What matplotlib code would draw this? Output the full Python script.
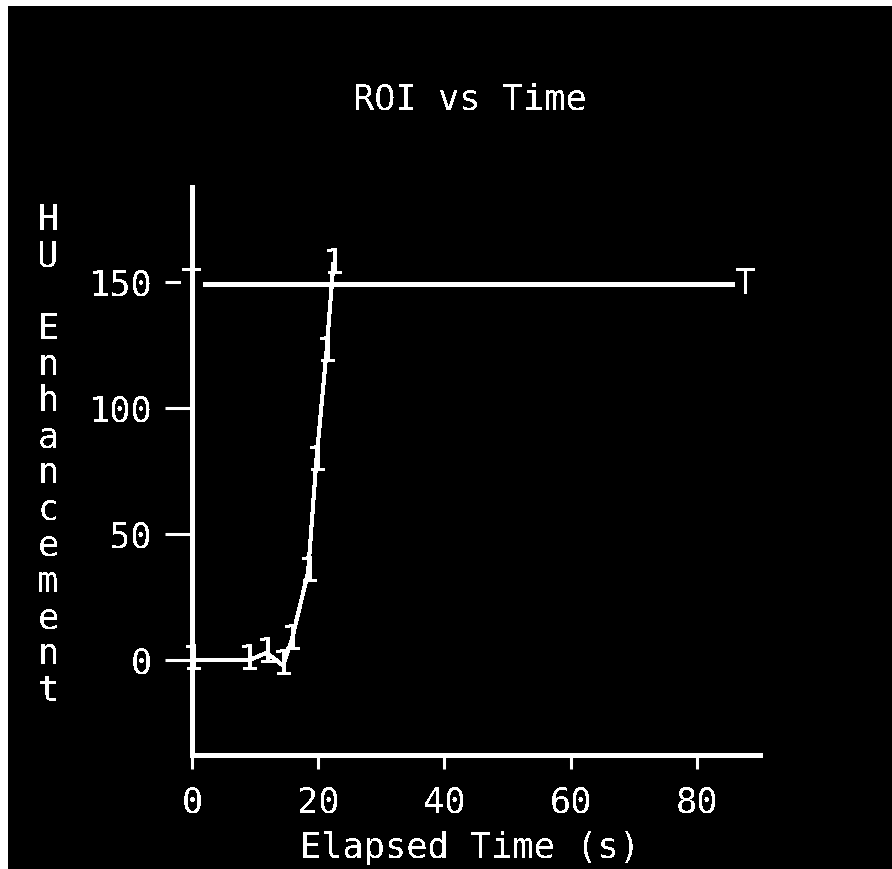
"""
ROI enhancement vs elapsed time (bolus tracking plot).
"""

import matplotlib
matplotlib.use("Agg")
import matplotlib.pyplot as plt
from matplotlib.patches import Rectangle

# data
roi_time = [0.0, 9.0, 11.8, 14.4, 15.8, 18.4, 19.7, 21.3, 22.4]
roi_hu = [0.0, 0.0, 3.0, -2.0, 8.0, 35.0, 79.0, 122.0, 157.0]
thresh_time = [0.0, 87.8]
thresh_hu = [149.0, 149.0]
x_ticks = [0, 20, 40, 60, 80]
y_ticks = [0, 50, 100, 150]
y_label = "HU Enhancement"

FONT = "DejaVu Sans Mono"
FS = 25.5


def main():
    plt.rcParams["font.family"] = FONT
    plt.rcParams["text.antialiased"] = False

    W, H = 892, 869
    fig = plt.figure(figsize=(W / 100, H / 100), dpi=100, facecolor="black")

    left, right, top, bottom = 192, 760, 187, 755
    ax = fig.add_axes([left / W, 1 - bottom / H, (right - left) / W, (bottom - top) / H])
    ax.set_facecolor("black")
    ax.set_xlim(0, 90)
    ax.set_ylim(-37.5, 187.5)

    for s in ("top", "right"):
        ax.spines[s].set_visible(False)
    for s in ("left", "bottom"):
        ax.spines[s].set_color("white")
        ax.spines[s].set_linewidth(2.2)
        ax.spines[s].set_antialiased(False)
        ax.spines[s].set_zorder(4)

    ax.set_xticks(x_ticks)
    ax.set_yticks(y_ticks)
    ax.tick_params(axis="x", colors="white", length=10, width=2.2, pad=12, labelsize=FS)
    ax.tick_params(axis="y", colors="white", length=19.5, width=2.2, pad=9, labelsize=FS)

    # curve and threshold line
    ax.plot(roi_time, roi_hu, color="white", lw=2.2, antialiased=False, zorder=2)
    ax.plot(thresh_time, thresh_hu, color="white", lw=2.2, antialiased=False, zorder=2)

    box = dict(facecolor="black", edgecolor="none", pad=0)
    for x, y in zip(roi_time, roi_hu):
        ax.text(x, y, "1", color="white", fontsize=FS,
                ha="center", va="center", zorder=3, clip_on=False)
    for x, y in zip(thresh_time, thresh_hu):
        ax.text(x, y, "T", color="white", fontsize=FS,
                ha="center", va="center", bbox=box, zorder=3, clip_on=False)

    fig.text(470 / W, 1 - 100 / H, "ROI vs Time", color="white", fontsize=FS,
             ha="center", va="center")
    fig.text(470 / W, 1 - 848 / H, "Elapsed Time (s)", color="white", fontsize=FS,
             ha="center", va="center")

    # stacked vertical y label
    for i, ch in enumerate(y_label):
        fig.text(48 / W, 1 - (220 + i * 36.2) / H, ch, color="white", fontsize=FS,
                 ha="center", va="center")

    # white border strips at top and left
    fig.patches.append(Rectangle((0, 1 - 6 / H), 1, 6 / H, transform=fig.transFigure,
                                 facecolor="white", edgecolor="none"))
    fig.patches.append(Rectangle((0, 0), 8 / W, 1, transform=fig.transFigure,
                                 facecolor="white", edgecolor="none"))

    fig.savefig("out.png", dpi=100, facecolor="black")


if __name__ == "__main__":
    main()
